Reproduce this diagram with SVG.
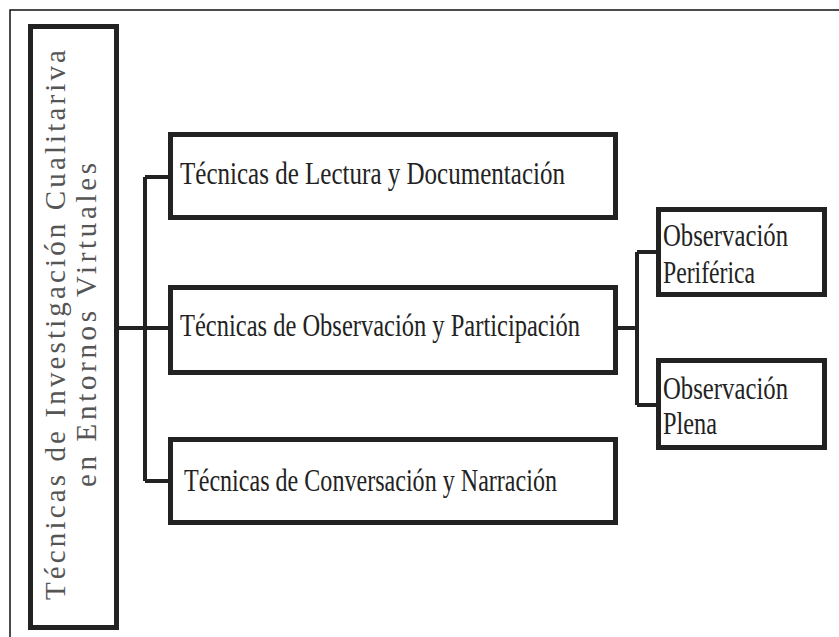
<svg xmlns="http://www.w3.org/2000/svg" width="839" height="637" viewBox="0 0 839 637">
<style>
.box{fill:#fff;stroke:#222;stroke-width:5}
.lbl{font-family:"Liberation Serif","DejaVu Serif","Times New Roman",serif;font-size:32px;fill:#222}
.vt{font-family:"Liberation Serif","DejaVu Serif","Times New Roman",serif;font-size:29px;fill:#555}
.con{fill:none;stroke:#222;stroke-width:4}
</style>
<rect x="0" y="0" width="839" height="637" fill="#fff"/>
<path d="M10 637 V10 H839" fill="none" stroke="#111" stroke-width="1.5"/>
<g id="connectors">
<path class="con" d="M119 328 H145 M145 177 V481 M145 177 H168 M145 328 H168 M145 481 H168"/>
<path class="con" d="M618 328 H637 M637 252 V405 M637 252 H656 M637 405 H656"/>
</g>
<g id="root">
<rect class="box" x="30.5" y="26.5" width="86" height="601"/>
<text class="vt" transform="translate(65 325) rotate(-90)" text-anchor="middle" textLength="550" lengthAdjust="spacing">Técnicas de Investigación Cualitariva</text>
<text class="vt" transform="translate(96 325) rotate(-90)" text-anchor="middle" textLength="324" lengthAdjust="spacing">en Entornos Virtuales</text>
</g>
<g id="n1">
<rect class="box" x="170.5" y="134.5" width="445" height="83"/>
<text class="lbl" x="180" y="184" textLength="385" lengthAdjust="spacingAndGlyphs">Técnicas de Lectura y Documentación</text>
</g>
<g id="n2">
<rect class="box" x="170.5" y="287.5" width="445" height="85"/>
<text class="lbl" x="180" y="336" textLength="400" lengthAdjust="spacingAndGlyphs">Técnicas de Observación y Participación</text>
</g>
<g id="n3">
<rect class="box" x="170.5" y="439.5" width="445" height="83"/>
<text class="lbl" x="184" y="491" textLength="373" lengthAdjust="spacingAndGlyphs">Técnicas de Conversación y Narración</text>
</g>
<g id="n4">
<rect class="box" x="658.5" y="209.5" width="166" height="85"/>
<text class="lbl" x="663" y="246" textLength="125" lengthAdjust="spacingAndGlyphs">Observación</text>
<text class="lbl" x="663" y="283" textLength="92" lengthAdjust="spacingAndGlyphs">Periférica</text>
</g>
<g id="n5">
<rect class="box" x="658.5" y="360.5" width="166" height="87"/>
<text class="lbl" x="663" y="399" textLength="125" lengthAdjust="spacingAndGlyphs">Observación</text>
<text class="lbl" x="663" y="434" textLength="54" lengthAdjust="spacingAndGlyphs">Plena</text>
</g>
</svg>
